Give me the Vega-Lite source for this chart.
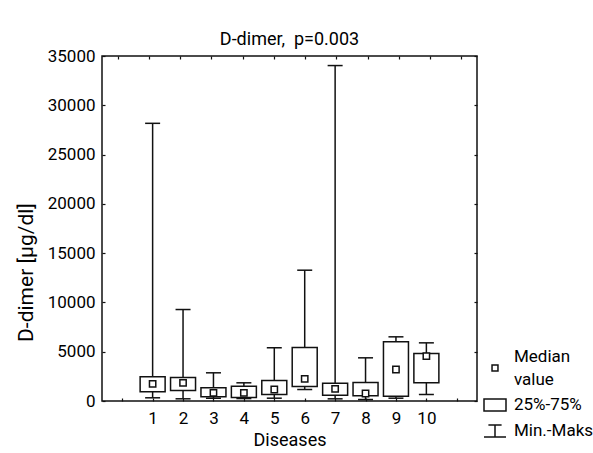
{
  "$schema": "https://vega.github.io/schema/vega-lite/v6.json",
  "width": 375,
  "height": 345,
  "autosize": {"type": "none"},
  "padding": {"left": 102, "top": 56, "right": 116, "bottom": 52},
  "title": {"text": "D-dimer,\u00a0\u00a0p=0.003", "fontSize": 18, "fontWeight": "normal", "offset": -2, "anchor": "middle", "color": "#000"},
  "config": {
    "font": "Roboto, Liberation Sans, sans-serif",
    "view": {"stroke": "#111", "strokeWidth": 1.5},
    "axis": {"grid": false, "domain": false, "tickColor": "#111", "tickWidth": 1.2, "tickSize": -3, "labelFontSize": 17, "labelColor": "#000", "titleFontSize": 18, "titleFontWeight": "normal", "titleColor": "#000"}
  },
  "datasets": {
    "boxes": [
      {"disease": 1, "min": 325, "q1": 933, "median": 1745, "q3": 2455, "max": 28170},
      {"disease": 2, "min": 223, "q1": 1065, "median": 1845, "q3": 2383, "max": 9280},
      {"disease": 3, "min": 280, "q1": 426, "median": 830, "q3": 1340, "max": 2860},
      {"disease": 4, "min": 250, "q1": 355, "median": 830, "q3": 1500, "max": 1845},
      {"disease": 5, "min": 285, "q1": 660, "median": 1165, "q3": 2080, "max": 5400},
      {"disease": 6, "min": 1165, "q1": 1470, "median": 2250, "q3": 5425, "max": 13270},
      {"disease": 7, "min": 220, "q1": 590, "median": 1235, "q3": 1805, "max": 34030},
      {"disease": 8, "min": 150, "q1": 525, "median": 760, "q3": 1875, "max": 4380},
      {"disease": 9, "min": 285, "q1": 490, "median": 3195, "q3": 6000, "max": 6510},
      {"disease": 10, "min": 660, "q1": 1845, "median": 4550, "q3": 4820, "max": 5900}
    ],
    "legend": [
      {"item": "Median"},
      {"item": "\u00a0value"},
      {"item": "25%-75%"},
      {"item": "Min.-Maks"}
    ]
  },
  "layer": [
    {
      "data": {"name": "boxes"},
      "encoding": {
        "x": {"field": "disease", "type": "quantitative", "scale": {"domain": [-0.5, 11.5], "nice": false, "zero": false},
              "axis": {"orient": "bottom", "values": [0,1,2,3,4,5,6,7,8,9,10,11], "labelExpr": "datum.value >= 1 && datum.value <= 10 ? datum.label : ''", "labelPadding": 12, "labelFlush": false, "title": "Diseases", "titleFontSize": 18, "titlePadding": 5}}
      },
      "layer": [
        {
          "mark": {"type": "rule", "color": "#111", "strokeWidth": 1.5},
          "encoding": {
            "y": {"field": "min", "type": "quantitative", "scale": {"domain": [0, 35000], "nice": false},
                  "axis": {"orient": "left", "values": [0,5000,10000,15000,20000,25000,30000,35000], "format": "d", "labelPadding": 10, "title": "D-dimer [µg/dl]", "titleFontSize": 21, "titleAngle": -90, "titleAlign": "center", "titleBaseline": "middle", "titleX": -76, "titleY": 216}},
            "y2": {"field": "max"}
          }
        },
        {
          "mark": {"type": "point", "shape": "stroke", "size": 225, "color": "#111", "strokeWidth": 1.5, "opacity": 1},
          "encoding": {"y": {"field": "min", "type": "quantitative"}}
        },
        {
          "mark": {"type": "point", "shape": "stroke", "size": 225, "color": "#111", "strokeWidth": 1.5, "opacity": 1},
          "encoding": {"y": {"field": "max", "type": "quantitative"}}
        },
        {
          "mark": {"type": "bar", "size": 25, "fill": "white", "stroke": "#111", "strokeWidth": 1.5},
          "encoding": {"y": {"field": "q1", "type": "quantitative"}, "y2": {"field": "q3"}}
        },
        {
          "mark": {"type": "point", "shape": "square", "size": 40, "filled": true, "fill": "white", "stroke": "#111", "strokeWidth": 1.5, "opacity": 1},
          "encoding": {"y": {"field": "median", "type": "quantitative"}}
        }
      ]
    },
    {
      "data": {"name": "legend"},
      "mark": {"type": "point", "opacity": 0, "filled": false},
      "encoding": {
        "x": {"datum": 5, "type": "quantitative", "scale": {"domain": [-0.5, 11.5], "nice": false, "zero": false},
              "axis": {"orient": "top", "values": [0,1,2,3,4,5,6,7,8,9,10,11], "labels": false, "title": null}},
        "y": {"datum": 0, "type": "quantitative", "scale": {"domain": [0, 35000], "nice": false},
              "axis": {"orient": "right", "values": [0,5000,10000,15000,20000,25000,30000,35000], "labels": false, "title": null}},
        "shape": {"field": "item", "type": "nominal",
                  "scale": {"domain": ["Median", "\u00a0value", "25%-75%", "Min.-Maks"],
                            "range": ["M0,0", "M-0.27,-1.36L0.27,-1.36L0.27,-0.82L-0.27,-0.82Z", "M0,-1.545M0,1.0M-1,-0.55L1,-0.55L1,0.55L-1,0.55Z", "M0,-1.0M-0.6,-0.55L0.6,-0.55M0,-0.55L0,0.55M-1,0.55L1,0.55"]},
                  "legend": {"orient": "none", "legendX": 381, "legendY": 289, "title": null, "padding": 0, "symbolSize": 484, "symbolOpacity": 1, "symbolFillColor": "white", "symbolStrokeColor": "#111", "symbolStrokeWidth": 1.5, "labelFontSize": 17, "labelColor": "#000", "labelOffset": 7, "labelLimit": 200, "rowPadding": -3}}
      }
    }
  ],
  "resolve": {"scale": {"x": "independent", "y": "independent"}}
}
